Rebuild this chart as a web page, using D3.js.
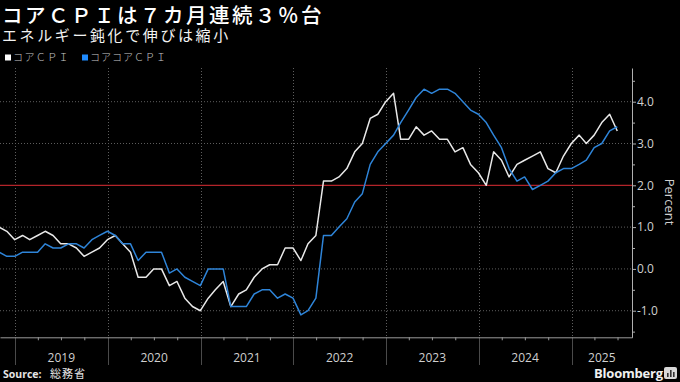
<!DOCTYPE html>
<html>
<head>
<meta charset="utf-8">
<script src="https://cdn.jsdelivr.net/npm/d3@7"></script>
<style>
html,body{margin:0;padding:0;background:#000;}
svg{display:block;}
</style>
</head>
<body>
<svg id="chart" width="680" height="382"></svg>
<script>
// ---- data ----
const startYear = 2018, startMonth = 9; // Oct 2018 (0-based month)
const coreCPI = [
  1.0, 0.9, 0.7,
  0.8, 0.7, 0.8, 0.9, 0.8, 0.6, 0.6, 0.5, 0.3, 0.4, 0.5, 0.7,
  0.8, 0.6, 0.4, -0.2, -0.2, 0.0, 0.0, -0.4, -0.3, -0.7, -0.9, -1.0,
  -0.7, -0.5, -0.3, -0.9, -0.6, -0.5, -0.2, 0.0, 0.1, 0.1, 0.5, 0.5,
  0.2, 0.6, 0.8, 2.1, 2.1, 2.2, 2.4, 2.8, 3.0, 3.6, 3.7, 4.0,
  4.2, 3.1, 3.1, 3.4, 3.2, 3.3, 3.1, 3.1, 2.8, 2.9, 2.5, 2.3,
  2.0, 2.8, 2.6, 2.2, 2.5, 2.6, 2.7, 2.8, 2.4, 2.3, 2.7, 3.0,
  3.2, 3.0, 3.2, 3.5, 3.7, 3.3
];
const coreCoreCPI = [
  0.4, 0.3, 0.3,
  0.4, 0.4, 0.4, 0.6, 0.5, 0.5, 0.6, 0.6, 0.5, 0.7, 0.8, 0.9,
  0.8, 0.6, 0.6, 0.2, 0.4, 0.4, 0.4, -0.1, 0.0, -0.2, -0.3, -0.4,
  0.0, 0.0, 0.0, -0.9, -0.9, -0.9, -0.6, -0.5, -0.5, -0.7, -0.6, -0.7,
  -1.1, -1.0, -0.7, 0.8, 0.8, 1.0, 1.2, 1.6, 1.8, 2.5, 2.8, 3.0,
  3.2, 3.5, 3.8, 4.1, 4.3, 4.2, 4.3, 4.3, 4.2, 4.0, 3.8, 3.7,
  3.5, 3.2, 2.9, 2.4, 2.1, 2.2, 1.9, 2.0, 2.1, 2.3, 2.4, 2.4,
  2.5, 2.6, 2.9, 3.0, 3.3, 3.4
];
const seriesNames = ["コアＣＰＩ", "コアコアＣＰＩ"];
const seriesColors = ["#e8e8e8", "#2e84d8"];
const years = [2019, 2020, 2021, 2022, 2023, 2024, 2025];
const yMajorTicks = [-1, 0, 1, 2, 3, 4];
const yMinorTicks = [-1.5, -0.5, 0.5, 1.5, 2.5, 3.5, 4.5];
const targetLine = 2.0;
const titleText = "コアＣＰＩは７カ月連続３％台";
const subtitleText = "エネルギー鈍化で伸びは縮小";
const yAxisTitle = "Percent";
const sourceLabel = "Source:";
const sourceText = "総務省";

// ---- layout ----
const svg = d3.select("#chart");
const plot = {left: 0, right: 632, top: 68, bottom: 337.3};
const x = d3.scaleTime()
  .domain([new Date(2018, 10, 3), new Date(2025, 7, 27)])
  .range([plot.left, plot.right]);
const y = d3.scaleLinear().domain([-1.636, 4.806]).range([plot.bottom, plot.top]);

const monthDate = i => new Date(startYear, startMonth + i + 1, 0); // month-end
const mk = arr => arr.map((v, i) => ({d: monthDate(i), v}));
const dataSets = [mk(coreCPI), mk(coreCoreCPI)];

const sans = "'Open Sans','Noto Sans',sans-serif";
const cjk = "'Noto Sans CJK JP','Noto Sans',sans-serif";
const cjkTight = "'Liberation Sans','Noto Sans CJK JP',sans-serif";

svg.append("rect").attr("width", 680).attr("height", 382).attr("fill", "#000");

// titles
svg.append("text").attr("x", 2).attr("y", 22.5)
  .attr("font-family", cjkTight).attr("font-size", 20.5).attr("font-weight", 500).attr("letter-spacing", 2.5)
  .attr("fill", "#ffffff").text(titleText);
svg.append("text").attr("x", 2).attr("y", 41)
  .attr("font-family", cjkTight).attr("font-size", 15).attr("letter-spacing", 2.6)
  .attr("fill", "#f2f2f2").text(subtitleText);

// legend
const legX = [5, 82];
seriesNames.forEach((n, i) => {
  svg.append("rect").attr("x", legX[i]).attr("y", 54.5).attr("width", 6).attr("height", 6)
    .attr("fill", i === 0 ? "#ffffff" : "#1f8bff");
  svg.append("text").attr("x", legX[i] + 8).attr("y", 61)
    .attr("font-family", cjk).attr("font-size", 10).attr("font-weight", 300)
    .attr("letter-spacing", i === 0 ? 1.4 : 1.0)
    .attr("fill", "#c8c8c8").text(n);
});

// horizontal grid
svg.append("g").selectAll("line").data(yMajorTicks.filter(t => t !== targetLine)).join("line")
  .attr("x1", plot.left).attr("x2", plot.right)
  .attr("y1", d => y(d)).attr("y2", d => y(d))
  .attr("stroke", "#5e5e5e").attr("stroke-width", 1).attr("stroke-dasharray", "1,2");

// vertical year separators
const yearStarts = years.map(yr => new Date(yr, 0, 1));
svg.append("g").selectAll("line").data(yearStarts).join("line")
  .attr("x1", d => Math.round(x(d)) + 0.5).attr("x2", d => Math.round(x(d)) + 0.5)
  .attr("y1", plot.top).attr("y2", plot.bottom)
  .attr("stroke", "#5e5e5e").attr("stroke-width", 1).attr("stroke-dasharray", "1,2");
svg.append("g").selectAll("line").data(yearStarts).join("line")
  .attr("x1", d => Math.round(x(d)) + 0.5).attr("x2", d => Math.round(x(d)) + 0.5)
  .attr("y1", plot.bottom).attr("y2", 365)
  .attr("stroke", "#4a4a4a").attr("stroke-width", 1);

// target line
svg.append("line").attr("x1", plot.left).attr("x2", plot.right)
  .attr("y1", y(targetLine)).attr("y2", y(targetLine))
  .attr("stroke", "#b3242a").attr("stroke-width", 1.2);

// lines
svg.append("clipPath").attr("id", "clip").append("rect")
  .attr("x", plot.left).attr("y", plot.top - 5).attr("width", plot.right - plot.left).attr("height", plot.bottom - plot.top + 10);
const line = d3.line().x(d => x(d.d)).y(d => y(d.v));
const gLines = svg.append("g").attr("clip-path", "url(#clip)");
dataSets.forEach((ds, i) => {
  gLines.append("path").datum(ds).attr("d", line)
    .attr("fill", "none").attr("stroke", seriesColors[i])
    .attr("stroke-width", 1.5).attr("stroke-linejoin", "round");
});

// x axis (quarter ticks)
const quarters = [];
for (let yr = 2018; yr <= 2025; yr++) [3, 6, 9].forEach(m => {
  const d = new Date(yr, m, 1);
  if (x(d) > 0 && x(d) < plot.right) quarters.push(d);
});
const xAxis = svg.append("g").attr("transform", `translate(0,${plot.bottom})`)
  .call(d3.axisBottom(x).tickValues(quarters).tickSize(3).tickSizeOuter(0).tickFormat(""));
xAxis.select(".domain").attr("stroke", "#9a9a9a");
xAxis.selectAll(".tick line").attr("stroke", "#9a9a9a");

// year labels
svg.append("g").selectAll("text").data(years).join("text")
  .attr("x", yr => (x(new Date(yr, 0, 1)) + Math.min(x(new Date(yr + 1, 0, 1)), plot.right)) / 2)
  .attr("y", 362).attr("text-anchor", "middle")
  .attr("font-family", sans).attr("font-size", 12).attr("fill", "#cfcfcf")
  .text(d => d);

// y axis
const fmt = v => (v < 0 ? "-" : "") + Math.abs(v).toFixed(1);
const yMinor = svg.append("g").attr("transform", `translate(${plot.right},0)`)
  .call(d3.axisRight(y).tickValues(yMinorTicks).tickSize(3).tickSizeOuter(0).tickFormat(""));
yMinor.select(".domain").attr("stroke", "#b0b0b0");
yMinor.selectAll(".tick line").attr("stroke", "#b0b0b0");
const yMajor = svg.append("g").attr("transform", `translate(${plot.right},0)`)
  .call(d3.axisRight(y).tickValues(yMajorTicks).tickSize(4).tickPadding(1).tickSizeOuter(0).tickFormat(fmt));
yMajor.select(".domain").remove();
yMajor.selectAll(".tick line").attr("stroke", "#b0b0b0");
yMajor.selectAll(".tick text").attr("font-family", sans).attr("font-size", 12).attr("fill", "#d0d0d0");

svg.append("text").attr("transform", "translate(665,202) rotate(90)")
  .attr("text-anchor", "middle").attr("font-family", sans).attr("font-size", 13)
  .attr("fill", "#d0d0d0").text(yAxisTitle);

// source
const src = svg.append("text").attr("x", 3).attr("y", 378.3).attr("fill", "#e6e6e6");
src.append("tspan").attr("font-family", sans).attr("font-size", 10.5).attr("font-weight", 700).text(sourceLabel);
src.append("tspan").attr("x", 50).attr("font-family", cjk).attr("font-size", 11).attr("letter-spacing", 1).text(sourceText);

// Bloomberg logo
svg.append("text").attr("x", 594).attr("y", 378).attr("font-family", sans).attr("font-size", 13)
  .attr("font-weight", 700).attr("letter-spacing", -0.2).attr("fill", "#f0f0f0").text("Bloomberg");
const ic = svg.append("g").attr("transform", "translate(664,367)");
ic.append("rect").attr("width", 13).attr("height", 12).attr("rx", 2).attr("fill", "#d8d8d8");
[[3, 6, 2], [6, 3, 5], [9, 5, 3]].forEach(([bx, by, bh]) =>
  ic.append("rect").attr("x", bx).attr("y", by).attr("width", 1.6).attr("height", bh + 2).attr("fill", "#333"));
</script>
</body>
</html>
